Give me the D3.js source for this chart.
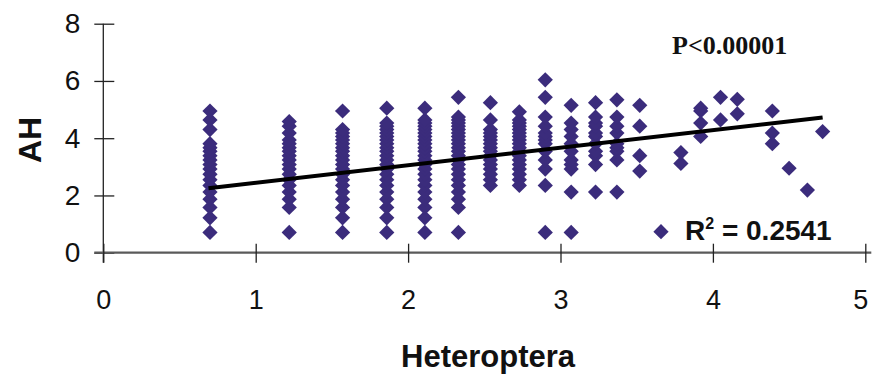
<!DOCTYPE html>
<html>
<head>
<meta charset="utf-8">
<script src="https://cdn.jsdelivr.net/npm/d3@7/dist/d3.min.js"></script>
<style>
  html, body { margin: 0; padding: 0; background: #fff; }
  svg { display: block; }
  text { font-family: "Liberation Sans", Arial, sans-serif; }
</style>
</head>
<body>
<svg id="chart" width="872" height="375"></svg>
<script>
// ---- data ----
const heteroptera = [0.70, 1.22, 1.57, 1.86, 2.11, 2.33, 2.54, 2.73, 2.90, 3.07, 3.23, 3.37, 3.52, 3.79, 3.92, 4.05, 4.16, 4.39, 4.50, 4.62, 4.72];
const ahByColumn = [
  [0.71, 1.22, 1.58, 1.87, 2.12, 2.35, 2.55, 2.74, 2.92, 3.08, 3.24, 3.39, 3.54, 3.67, 3.81, 4.30, 4.64, 4.95],
  [0.71, 1.58, 1.87, 2.12, 2.35, 2.55, 2.74, 2.92, 3.08, 3.24, 3.39, 3.54, 3.67, 3.81, 3.94, 4.18, 4.42, 4.58],
  [0.71, 1.22, 1.58, 1.87, 2.12, 2.35, 2.55, 2.74, 2.92, 3.08, 3.24, 3.39, 3.54, 3.67, 3.81, 3.94, 4.06, 4.18, 4.30, 4.95],
  [0.71, 1.22, 1.58, 1.87, 2.12, 2.35, 2.55, 2.74, 2.92, 3.08, 3.24, 3.39, 3.54, 3.67, 3.81, 3.94, 4.06, 4.18, 4.30, 4.42, 4.53, 5.05],
  [0.71, 1.22, 1.58, 1.87, 2.12, 2.35, 2.55, 2.74, 2.92, 3.08, 3.24, 3.39, 3.54, 3.67, 3.81, 3.94, 4.06, 4.18, 4.30, 4.42, 4.53, 4.64, 5.05],
  [0.71, 1.58, 1.87, 2.12, 2.35, 2.55, 2.74, 2.92, 3.08, 3.24, 3.39, 3.54, 3.67, 3.81, 3.94, 4.06, 4.18, 4.30, 4.42, 4.53, 4.64, 4.74, 5.43],
  [2.35, 2.55, 2.74, 2.92, 3.08, 3.24, 3.39, 3.54, 3.67, 3.81, 3.94, 4.06, 4.18, 4.30, 4.64, 5.24],
  [2.35, 2.55, 2.74, 2.92, 3.08, 3.24, 3.39, 3.54, 3.67, 3.81, 3.94, 4.06, 4.18, 4.30, 4.42, 4.53, 4.64, 4.92],
  [0.71, 2.35, 2.92, 3.24, 3.54, 3.81, 3.94, 4.06, 4.18, 4.42, 4.74, 5.43, 6.04],
  [0.71, 2.12, 2.92, 3.08, 3.24, 3.54, 3.81, 4.06, 4.30, 4.53, 5.15],
  [2.12, 3.08, 3.39, 3.54, 3.81, 4.06, 4.18, 4.42, 4.53, 4.74, 5.24],
  [2.12, 3.24, 3.54, 3.67, 3.81, 4.18, 4.42, 4.74, 5.34],
  [2.85, 3.39, 4.42, 5.15],
  [3.12, 3.50],
  [4.06, 4.53, 4.95, 5.05],
  [4.64, 5.43],
  [4.85, 5.36],
  [3.81, 4.18, 4.95],
  [2.95],
  [2.19],
  [4.23]
];
const trendX = [0.69, 4.72];
const trendY = [2.25, 4.72];
const xTicks = [0, 1, 2, 3, 4, 5];
const yTicks = [0, 2, 4, 6, 8];
const xTitle = "Heteroptera";
const yTitle = "AH";
const pText = "P<0.00001";
const r2Value = "0.2541";

// ---- drawing ----
const svg = d3.select("#chart");
const x = d3.scaleLinear().domain([0, 5]).range([103.3, 865.3]);
const y = d3.scaleLinear().domain([0, 8]).range([252.7, 23.7]);
const markColor = "#3b2c7c";
const fmt = d3.format("d");

const points = [];
heteroptera.forEach((xv, i) => ahByColumn[i].forEach(yv => points.push([xv, yv])));

// y axis
const gy = svg.append("g").attr("transform", `translate(${x(0)},0)`)
  .call(d3.axisLeft(y).tickValues(yTicks).tickFormat(fmt).tickSizeInner(9).tickSizeOuter(0).tickPadding(14));
gy.select(".domain").attr("d", `M0,${y(8)}V${y(0) + 10}`).attr("stroke", "#222").attr("stroke-width", 1.3);
gy.selectAll(".tick line").attr("x2", -9).attr("x1", 11).attr("stroke", "#222").attr("stroke-width", 1.3);
gy.selectAll(".tick text").attr("font-size", 28).attr("fill", "#111")
  .style("font-family", '"Liberation Sans", Arial, sans-serif');

// x axis
const gx = svg.append("g").attr("transform", `translate(0,${y(0)})`)
  .call(d3.axisBottom(x).tickValues(xTicks).tickFormat(fmt).tickSizeInner(10).tickSizeOuter(0).tickPadding(27));
gx.select(".domain").attr("d", `M${x(0) - 9},0H${x(5) + 6}`).attr("stroke", "#5a5a5a").attr("stroke-width", 2.2);
gx.selectAll(".tick line").attr("y1", -9).attr("y2", 10).attr("stroke", "#222").attr("stroke-width", 1.3);
gx.selectAll(".tick text").attr("font-size", 27).attr("fill", "#111")
  .style("font-family", '"Liberation Sans", Arial, sans-serif');
gx.selectAll(".tick").filter(d => d === 5).select("text").attr("dx", -5);

// points
const diamond = d3.symbol().type(d3.symbolSquare).size(116);
svg.append("g").selectAll("path").data(points).join("path")
  .attr("d", diamond)
  .attr("transform", d => `translate(${x(d[0])},${y(d[1])}) rotate(45)`)
  .attr("fill", markColor);

// trend line
svg.append("line")
  .attr("x1", x(trendX[0])).attr("y1", y(trendY[0]))
  .attr("x2", x(trendX[1])).attr("y2", y(trendY[1]))
  .attr("stroke", "#000").attr("stroke-width", 4);

// axis titles
svg.append("text").attr("x", 488).attr("y", 367).attr("text-anchor", "middle")
  .attr("font-size", 31).attr("font-weight", "bold").attr("fill", "#111").text(xTitle);
svg.append("text").attr("transform", "translate(41,140) rotate(-90)").attr("text-anchor", "middle")
  .attr("font-size", 32).attr("font-weight", "bold").attr("fill", "#111").text(yTitle);

// P value
svg.append("text").attr("x", 672).attr("y", 54)
  .style("font-family", '"Liberation Serif", "Times New Roman", serif')
  .attr("font-size", 26).attr("font-weight", "bold").attr("fill", "#111").text(pText);

// R² legend
svg.append("path").attr("d", diamond)
  .attr("transform", `translate(661,231.7) rotate(45)`).attr("fill", markColor);
const r2 = svg.append("text").attr("x", 685).attr("y", 240)
  .attr("font-size", 28).attr("font-weight", "bold").attr("fill", "#111");
r2.append("tspan").text("R");
r2.append("tspan").attr("font-size", 16).attr("dy", -11).text("2");
r2.append("tspan").attr("dy", 11).text(" = " + r2Value);
</script>
</body>
</html>
